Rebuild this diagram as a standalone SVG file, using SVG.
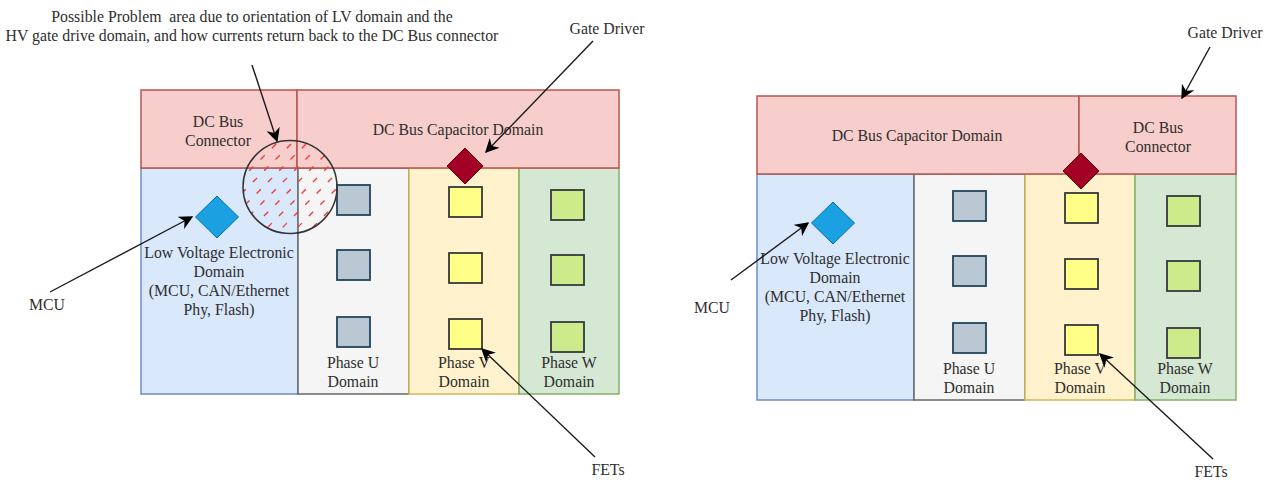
<svg xmlns="http://www.w3.org/2000/svg" width="1272" height="480" viewBox="0 0 1272 480">
<defs>
<style>
text{font-family:"Liberation Serif","Times New Roman",serif;font-size:15.8px;fill:#2e2e2e;text-anchor:middle}
.pink{fill:#f8cecc;stroke:#b85450;stroke-width:1.5}
.blue{fill:#dae8fc;stroke:#6c8ebf;stroke-width:1.5}
.gray{fill:#f5f5f5;stroke:#666666;stroke-width:1.5}
.yel{fill:#fff2cc;stroke:#d6b656;stroke-width:1.5}
.grn{fill:#d5e8d4;stroke:#82b366;stroke-width:1.5}
.sqU{fill:#bac8d3;stroke:#23445d;stroke-width:1.8}
.sqV{fill:#ffff88;stroke:#36393d;stroke-width:1.8}
.sqW{fill:#cdeb8b;stroke:#36393d;stroke-width:1.8}
.mcu{fill:#1ba1e2;stroke:#006eaf;stroke-width:1}
.gd{fill:#a20025;stroke:#6f0000;stroke-width:1}
.conn{fill:none;stroke:#1a1a1a;stroke-width:1.4;marker-end:url(#arr)}
</style>
<marker id="arr" viewBox="0 0 10 10" refX="9" refY="5" markerWidth="14" markerHeight="14" markerUnits="userSpaceOnUse" orient="auto">
<path d="M0,0 L10,5 L0,10 L3,5 Z" fill="#000"/>
</marker>
<clipPath id="circClip"><ellipse cx="290" cy="187" rx="47" ry="46.5"/></clipPath>
</defs>
<rect width="1272" height="480" fill="#ffffff"/>

<!-- Left diagram -->
<g id="L-lv-domain"><rect class="blue" x="141" y="168" width="157" height="226"/>
<text x="219" y="258">Low Voltage Electronic</text><text x="219" y="277">Domain</text><text x="219" y="296">(MCU, CAN/Ethernet</text><text x="219" y="315">Phy, Flash)</text></g>
<g id="L-phaseU"><rect class="gray" x="298" y="168" width="111" height="226"/>
<text x="353" y="368">Phase U</text><text x="353" y="387">Domain</text></g>
<g id="L-phaseV"><rect class="yel" x="409" y="168" width="110" height="226"/>
<text x="464" y="368">Phase V</text><text x="464" y="387">Domain</text></g>
<g id="L-phaseW"><rect class="grn" x="519" y="168" width="100" height="226"/>
<text x="569" y="368">Phase W</text><text x="569" y="387">Domain</text></g>
<g id="L-dcbus-connector"><rect class="pink" x="141" y="90" width="156" height="78"/>
<text x="218" y="127">DC Bus</text><text x="218" y="146">Connector</text></g>
<g id="L-dcbus-cap"><rect class="pink" x="297" y="90" width="322" height="78"/>
<text x="458" y="135">DC Bus Capacitor Domain</text></g>
<g id="L-fetsU"><rect class="sqU" x="337" y="185" width="33" height="30"/><rect class="sqU" x="337" y="250" width="33" height="30"/><rect class="sqU" x="337" y="317" width="33" height="30"/></g>
<g id="L-fetsV"><rect class="sqV" x="449" y="187" width="33" height="30"/><rect class="sqV" x="449" y="253" width="33" height="30"/><rect class="sqV" x="449" y="319" width="33" height="30"/></g>
<g id="L-fetsW"><rect class="sqW" x="551" y="190" width="33" height="30"/><rect class="sqW" x="551" y="255" width="33" height="30"/><rect class="sqW" x="551" y="322" width="33" height="30"/></g>
<g id="L-mcu"><path class="mcu" d="M217,196 L238.5,217 L217,238 L195.5,217 Z"/></g>
<g id="L-gate-driver"><path class="gd" d="M465,148 L483,166 L465,184 L447,166 Z"/></g>
<g id="L-problem-area">
<g clip-path="url(#circClip)" stroke="#f03c3c" stroke-width="1.4" stroke-dasharray="6 10" fill="none">
<path d="M140,250 L260,130 M155,250 L275,130 M170,250 L290,130 M185,250 L305,130 M200,250 L320,130 M215,250 L335,130 M230,250 L350,130 M245,250 L365,130 M260,250 L380,130 M275,250 L395,130 M290,250 L410,130 M305,250 L425,130 M320,250 L440,130 M335,250 L455,130"/>
</g>
<ellipse cx="290" cy="187" rx="47" ry="46.5" fill="none" stroke="#333333" stroke-width="1.5"/>
</g>

<!-- Right diagram -->
<g id="R-lv-domain"><rect class="blue" x="757" y="174" width="157" height="226"/>
<text x="835" y="264">Low Voltage Electronic</text><text x="835" y="283">Domain</text><text x="835" y="302">(MCU, CAN/Ethernet</text><text x="835" y="321">Phy, Flash)</text></g>
<g id="R-phaseU"><rect class="gray" x="914" y="174" width="111" height="226"/>
<text x="969" y="374">Phase U</text><text x="969" y="393">Domain</text></g>
<g id="R-phaseV"><rect class="yel" x="1025" y="174" width="110" height="226"/>
<text x="1080" y="374">Phase V</text><text x="1080" y="393">Domain</text></g>
<g id="R-phaseW"><rect class="grn" x="1135" y="174" width="101" height="226"/>
<text x="1185" y="374">Phase W</text><text x="1185" y="393">Domain</text></g>
<g id="R-dcbus-cap"><rect class="pink" x="757" y="96" width="322" height="78"/>
<text x="917" y="141">DC Bus Capacitor Domain</text></g>
<g id="R-dcbus-connector"><rect class="pink" x="1079" y="96" width="157" height="78"/>
<text x="1158" y="133">DC Bus</text><text x="1158" y="152">Connector</text></g>
<g id="R-fetsU"><rect class="sqU" x="953" y="191" width="33" height="30"/><rect class="sqU" x="953" y="256" width="33" height="30"/><rect class="sqU" x="953" y="323" width="33" height="30"/></g>
<g id="R-fetsV"><rect class="sqV" x="1065" y="193" width="33" height="30"/><rect class="sqV" x="1065" y="259" width="33" height="30"/><rect class="sqV" x="1065" y="325" width="33" height="30"/></g>
<g id="R-fetsW"><rect class="sqW" x="1167" y="196" width="33" height="30"/><rect class="sqW" x="1167" y="261" width="33" height="30"/><rect class="sqW" x="1167" y="328" width="33" height="30"/></g>
<g id="R-mcu"><path class="mcu" d="M833,202 L854.5,223 L833,244 L811.5,223 Z"/></g>
<g id="R-gate-driver"><path class="gd" d="M1081,153 L1099,171 L1081,189 L1063,171 Z"/></g>

<!-- Labels -->
<g id="label-problem"><text x="252" y="22" xml:space="preserve">Possible Problem  area due to orientation of LV domain and the</text>
<text x="252" y="41">HV gate drive domain, and how currents return back to the DC Bus connector</text></g>
<g id="label-gate-driver-L"><text x="607" y="34">Gate Driver</text></g>
<g id="label-mcu-L"><text x="47" y="310">MCU</text></g>
<g id="label-fets-L"><text x="608" y="475">FETs</text></g>
<g id="label-gate-driver-R"><text x="1225" y="38">Gate Driver</text></g>
<g id="label-mcu-R"><text x="712" y="313">MCU</text></g>
<g id="label-fets-R"><text x="1211" y="477">FETs</text></g>

<!-- Connectors -->
<g id="connectors">
<path class="conn" d="M252,65 L277,141"/>
<path class="conn" d="M593,41 L486,152"/>
<path class="conn" d="M50,292 L192,217"/>
<path class="conn" d="M595,457 L482,349"/>
<path class="conn" d="M1210,47 L1182,98"/>
<path class="conn" d="M731,280 L808,223"/>
<path class="conn" d="M1213,459 L1100,354"/>
</g>
</svg>
